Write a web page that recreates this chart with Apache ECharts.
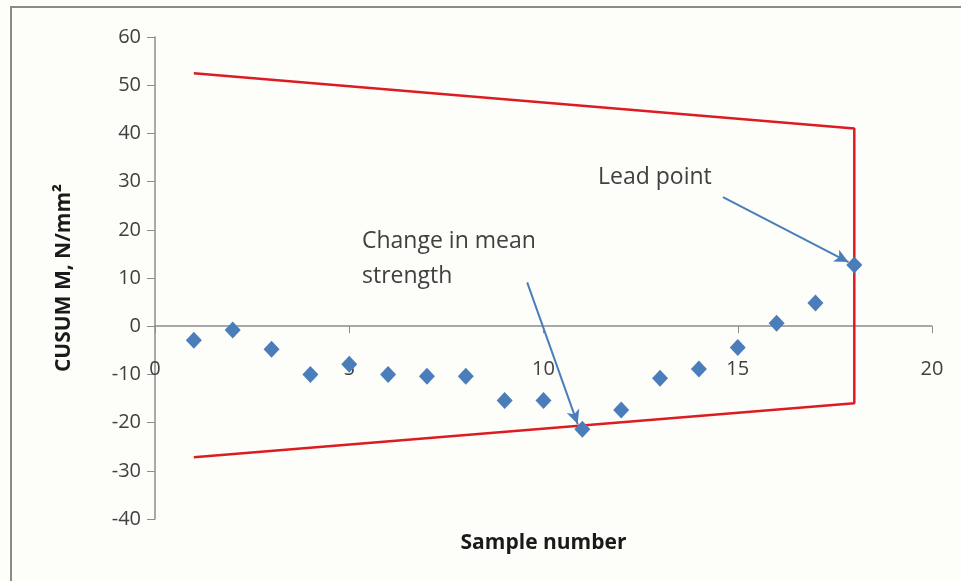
<!DOCTYPE html>
<html>
<head>
<meta charset="utf-8">
<title>CUSUM chart</title>
<script src="https://cdn.jsdelivr.net/npm/echarts@6/dist/echarts.min.js"></script>
<style>
  html, body { margin: 0; padding: 0; background: #fdfdf9; }
  #container { width: 961px; height: 581px; }
</style>
</head>
<body>
<div id="container"></div>
<script type="text/javascript">
// sample numbers and cusum values
var samples = [1, 2, 3, 4, 5, 6, 7, 8, 9, 10, 11, 12, 13, 14, 15, 16, 17, 18];
var cusum = [-2.9, -0.8, -4.8, -10, -7.9, -10, -10.4, -10.4, -15.4, -15.4, -21.4, -17.4, -10.8, -8.9, -4.4, 0.6, 4.8, 12.7];

// V-mask outline (upper arm, vertical, lower arm)
var maskX = [1, 18, 18, 1];
var maskY = [52.5, 41, -16, -27.2];

// annotation arrows: [x0, y0, x1, y1] in data units
var leadArrow = [14.62, 26.8, 17.85, 13.3];
var changeArrow = [9.58, 9.1, 10.88, -20.3];

var yTicks = { min: -40, max: 60, interval: 10 };
var xTicks = { min: 0, max: 20, interval: 5 };

var pts = samples.map(function (s, i) { return [s, cusum[i]]; });
var mask = maskX.map(function (x, i) { return [x, maskY[i]]; });

var font = 'Open Sans';
var textCol = '#404040';
var axisCol = '#8c8c8c';

var myChart = echarts.init(document.getElementById('container'));

var option = {
    backgroundColor: '#fdfdf9',
    animation: false,
    grid: { left: 155, right: 29, top: 37, bottom: 62, outerBoundsMode: 'none' },
    xAxis: {
        type: 'value',
        min: xTicks.min, max: xTicks.max, interval: xTicks.interval,
        name: 'Sample number',
        nameLocation: 'middle',
        nameGap: 14,
        nameTextStyle: { fontFamily: font, fontWeight: 'bold', fontSize: 21, color: '#1a1a1a' },
        axisLine: { show: true, onZero: true, lineStyle: { color: axisCol, width: 1.5 } },
        axisTick: { show: true, length: 7, lineStyle: { color: axisCol } },
        // labels sit at the grid bottom in v6, pull them up under the zero line
        axisLabel: { margin: -160, fontFamily: font, fontSize: 20, color: textCol },
        splitLine: { show: false }
    },
    yAxis: {
        type: 'value',
        min: yTicks.min, max: yTicks.max, interval: yTicks.interval,
        name: 'CUSUM M, N/mm²',
        nameLocation: 'middle',
        nameGap: 80,
        nameTextStyle: { fontFamily: font, fontWeight: 'bold', fontSize: 21, color: '#1a1a1a' },
        axisLine: { show: true, lineStyle: { color: axisCol, width: 1.5 } },
        axisTick: { show: true, length: 8, lineStyle: { color: axisCol } },
        axisLabel: { margin: 14, fontFamily: font, fontSize: 20, color: textCol },
        splitLine: { show: false }
    },
    graphic: [
        { type: 'line', shape: { x1: 11, y1: 6, x2: 11, y2: 581 }, style: { stroke: '#8a8a8a', lineWidth: 2 } },
        { type: 'line', shape: { x1: 10, y1: 7, x2: 961, y2: 7 }, style: { stroke: '#8a8a8a', lineWidth: 2 } },
        { type: 'text', left: 598, top: 166, style: { text: 'Lead point', font: '23px "Open Sans"', fill: textCol } },
        { type: 'text', left: 362, top: 224, style: { text: 'Change in mean\nstrength', font: '23px "Open Sans"', fill: textCol, lineHeight: 35 } }
    ],
    series: [
        {
            name: 'mask',
            type: 'line',
            data: mask,
            symbol: 'none',
            lineStyle: { color: '#dc1c22', width: 2.5 },
            z: 2
        },
        {
            name: 'cusum',
            type: 'scatter',
            data: pts,
            symbol: 'diamond',
            symbolSize: [16, 17],
            itemStyle: { color: '#4a7ebb', opacity: 1 },
            z: 3,
            markLine: {
                silent: true,
                symbol: ['none', 'arrow'],
                symbolSize: [10, 14],
                label: { show: false },
                lineStyle: { color: '#4a7ebb', width: 2, type: 'solid', opacity: 1 },
                data: [
                    [{ coord: [leadArrow[0], leadArrow[1]] }, { coord: [leadArrow[2], leadArrow[3]] }],
                    [{ coord: [changeArrow[0], changeArrow[1]] }, { coord: [changeArrow[2], changeArrow[3]] }]
                ]
            }
        }
    ]
};

myChart.setOption(option);
</script>
</body>
</html>
